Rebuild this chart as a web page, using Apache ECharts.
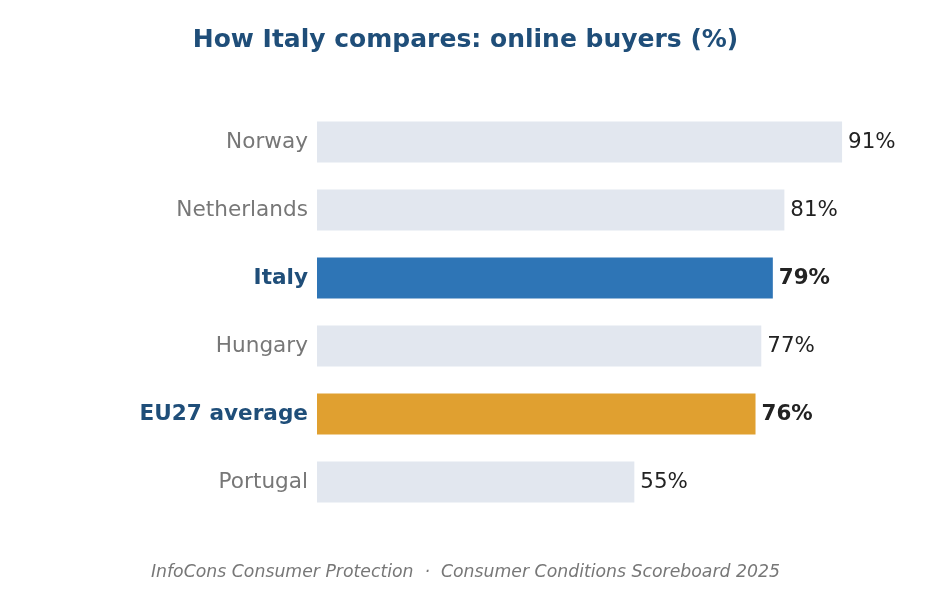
<!DOCTYPE html>
<html>
<head>
<meta charset="utf-8">
<script src="https://cdn.jsdelivr.net/npm/echarts@6/dist/echarts.min.js"></script>
<style>
  html, body { margin: 0; padding: 0; background: #fff; }
  #chart { width: 931px; height: 589px; }
</style>
</head>
<body>
<div id="chart"></div>
<script>
// data, top to bottom as drawn
const countries = ['Norway', 'Netherlands', 'Italy', 'Hungary', 'EU27 average', 'Portugal'];
const buyers = [91, 81, 79, 77, 76, 55];
const highlight = { 'Italy': '#2e75b6', 'EU27 average': '#e0a030' };

const font = 'DejaVu Sans';
const chart = echarts.init(document.getElementById('chart'));

chart.setOption({
  animation: false,
  textStyle: { fontFamily: font },
  title: [{
    text: 'How Italy compares: online buyers (%)',
    left: 'center',
    top: 23,
    textStyle: { fontFamily: font, fontSize: 25, fontWeight: 'bold', color: '#1f4e79' }
  }, {
    text: 'InfoCons Consumer Protection  ·  Consumer Conditions Scoreboard 2025',
    left: 'center',
    top: 559,
    textStyle: { fontFamily: font, fontSize: 17.3, fontStyle: 'italic', fontWeight: 'normal', color: '#777' }
  }],
  grid: { left: 317, right: 37, top: 108, bottom: 73 },
  xAxis: {
    type: 'value', min: 0, max: 100,
    show: false
  },
  yAxis: {
    type: 'category',
    inverse: true,
    data: countries,
    axisLine: { show: false },
    axisTick: { show: false },
    axisLabel: {
      margin: 9,
      fontFamily: font,
      fontSize: 21.6,
      formatter: v => highlight[v] ? '{b|' + v + '}' : '{n|' + v + '}',
      rich: {
        b: { fontFamily: font, fontSize: 21.6, fontWeight: 'bold', color: '#1f4e79' },
        n: { fontFamily: font, fontSize: 21.6, color: '#777' }
      }
    }
  },
  series: [{
    type: 'bar',
    barWidth: '60%',
    data: buyers.map((v, i) => ({
      value: v,
      itemStyle: { color: highlight[countries[i]] || '#e2e7ef' },
      label: { fontWeight: highlight[countries[i]] ? 'bold' : 'normal' }
    })),
    label: {
      show: true,
      position: 'right',
      distance: 6,
      formatter: '{c}%',
      fontFamily: font,
      fontSize: 21.4,
      color: '#222'
    }
  }]
});
</script>
</body>
</html>
